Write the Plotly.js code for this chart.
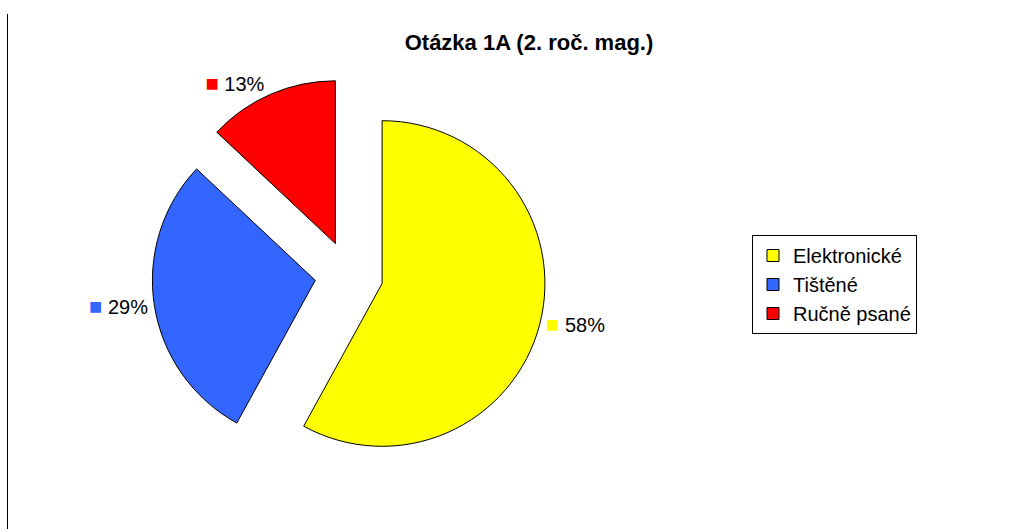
<!DOCTYPE html>
<html>
<head>
<meta charset="utf-8">
<script src="https://cdn.plot.ly/plotly-3.0.1.min.js"></script>
<style>html,body{margin:0;padding:0;background:#fff;}#chart{width:1033px;height:529px;}</style>
</head>
<body>
<div id="chart"></div>
<script>
const categories = ["Elektronické", "Tištěné", "Ručně psané"];
const values = [58, 29, 13];
const colors = ["#FFFF00", "#3366FF", "#FF0000"];
const chartTitle = "Otázka 1A (2. roč. mag.)";

const textLabels = colors.map(c => '<span style="color:' + c + ';font-size:22px">■</span> %{percent:.0%}');

const trace = {
  type: "pie",
  labels: categories,
  values: values,
  sort: false,
  direction: "clockwise",
  rotation: 0,
  pull: [0.21, 0.21, 0.21],
  marker: { colors: colors, line: { color: "#000000", width: 1 } },
  textposition: "outside",
  texttemplate: textLabels,
  textfont: { family: "Liberation Sans, Arial, sans-serif", size: 20, color: "#000000" },
  hoverinfo: "label+percent",
  domain: { x: [152/1033, 546/1033], y: [1 - 472/529, 1 - 78/529] },
  automargin: false
};

const layout = {
  width: 1033,
  height: 529,
  margin: { l: 0, r: 0, t: 0, b: 0 },
  paper_bgcolor: "#ffffff",
  font: { family: "Liberation Sans, Arial, sans-serif", color: "#000000" },
  title: {
    text: "<b>" + chartTitle + "</b>",
    font: { size: 22, family: "Liberation Sans, Arial, sans-serif", color: "#000000" },
    x: 529/1033, xanchor: "center",
    y: 1 - 42/529, yanchor: "middle",
    xref: "paper", yref: "paper"
  },
  showlegend: true,
  legend: {
    x: 752/1033, xanchor: "left",
    y: 1 - 235/529, yanchor: "top",
    bordercolor: "#000000", borderwidth: 1,
    bgcolor: "#ffffff",
    font: { size: 20, family: "Liberation Sans, Arial, sans-serif", color: "#000000" }
  },
  shapes: [{
    type: "line", xref: "paper", yref: "paper",
    x0: 7.5/1033, x1: 7.5/1033, y0: 0, y1: 1 - 14/529,
    line: { color: "#000000", width: 1 }
  }]
};

Plotly.newPlot("chart", [trace], layout, { displayModeBar: false, staticPlot: true });
</script>
</body>
</html>
